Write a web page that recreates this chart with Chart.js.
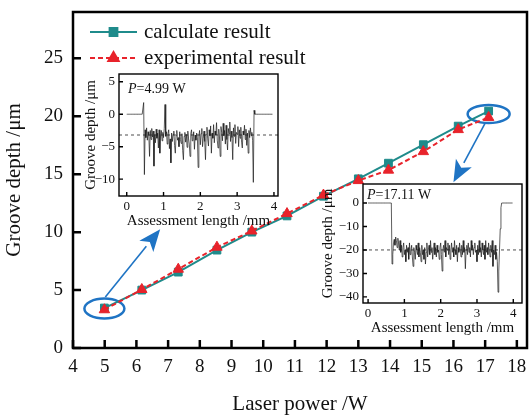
<!DOCTYPE html>
<html>
<head>
<meta charset="utf-8">
<script src="https://cdn.jsdelivr.net/npm/chart.js@4.4.1/dist/chart.umd.min.js"></script>
<style>
body{margin:0;background:#fff;}
#wrap{position:relative;width:531px;height:417px;overflow:hidden;}
#wrap canvas{position:absolute;}
</style>
</head>
<body>
<div id="wrap">
<canvas id="main" width="531" height="417" style="left:0;top:0"></canvas>
<canvas id="low" width="202" height="160" style="left:80px;top:70px"></canvas>
<canvas id="high" width="213" height="157" style="left:318px;top:180px"></canvas>
</div>
<script>
// groove depth vs laser power
const power = [4.99, 6.17, 7.32, 8.54, 9.64, 10.75, 11.9, 13.0, 13.95, 15.05, 16.15, 17.11];
const calcDepth = [3.45, 5.0, 6.55, 8.45, 10.0, 11.4, 13.1, 14.6, 15.95, 17.55, 19.15, 20.45];
const expDepth = [3.3, 5.05, 6.8, 8.7, 10.1, 11.6, 13.2, 14.45, 15.35, 16.95, 18.85, 19.9];
const powerTicks = [4, 5, 6, 7, 8, 9, 10, 11, 12, 13, 14, 15, 16, 17, 18];
const depthTicks = [0, 5, 10, 15, 20, 25];

// groove profiles, one sample every 0.02 mm
const sampleStep = 0.02;
const lowProfile = [
  0, 0, 0, 0, 0, 0, 0, 0, 0, 0, 0, 0, 0, 0, 0, 0, 0, 0, 0, 0, 0, 0, 0,
  1.8, -9.3,
  -2.4, -3.6, -2.1, -4.0, -2.7, -3.3, -6.5, -2.5, -3.9, -2.2,
  -3.5, -2.6, -8.0, -3.1, -4.4, -2.3, -3.7, -2.9, -5.2, -2.4,
  -6.0, -3.2, -2.5, -4.1, -2.8, -3.6, -2.2, 1.5, -3.4, -2.7,
  -4.6, -3.0, -2.4, -5.3, -3.8, -7.5, -2.9, -4.2, -3.1, -2.6,
  -4.8, -6.0, -3.3, -2.5, -4.0, -3.6, -5.0, -2.7, -3.9, -4.5,
  -3.0, -5.6, -7.0, -3.4, -2.8, -4.3, -3.1, -5.1, -2.6, -3.8,
  -4.6, -6.5, -3.0, -2.4, -4.1, -3.5, -2.7, -5.4, -3.2, -4.0,
  -2.9, -3.6, -8.2, -3.3, -2.5, -4.7, -3.0, -2.2, -5.0, -3.7,
  -2.6, -4.2, -7.0, -3.1, -2.0, -3.8, -4.9, -2.4, -3.3, -1.8,
  -6.0, -2.9, -3.7, -1.6, -4.4, -2.6, -3.2, -1.3, -4.0, -5.2,
  -2.3, -3.5, -6.5, -1.9, -2.8, -4.1, -1.4, -3.3, -2.5, -4.6,
  -1.7, -3.9, -5.5, -2.2, -3.0, -1.2, -4.2, -2.6, -3.6, -7.0,
  -2.1, -3.4, -1.6, -4.5, -2.8, -3.1, -1.9, -5.0, -2.4, -3.7,
  -2.0, -4.3, -5.2, -2.6, -3.2, -1.7, -3.9, -2.3, -4.8, -2.9,
  -6.0, -2.5, -3.6, -2.1, -3.3, -2.8, -4.0,
  -10.5, 0.6,
  0, 0, 0, 0, 0, 0, 0, 0, 0, 0, 0, 0, 0, 0, 0, 0, 0, 0, 0, 0, 0, 0, 0, 0, 0
];
const highProfile = [
  0, 0, 0, 0, 0, 0, 0, 0, 0, 0, 0, 0, 0, 0, 0, 0, 0, 0, 0, 0, 0, 0, 0, 0, 0, 0, 0, 0, 0, 0, 0, 0, 0,
  -26,
  -22, -17, -15.5, -18, -14.5, -16, -19, -15, -17, -20,
  -16, -21, -18, -23, -19, -17, -22, -20, -25, -18,
  -21, -19, -24, -17, -22, -20, -18, -23, -27, -19,
  -21, -24, -18, -20, -22, -17, -23, -19, -21, -25,
  -18, -22, -20, -24, -19, -26, -21, -17, -23, -20,
  -18, -22, -16, -21, -19, -24, -20, -17, -22, -19,
  -23, -18, -21, -20, -24, -19, -17, -22, -29, -20,
  -18, -21, -16, -23, -19, -20, -17, -22, -18, -24,
  -20, -17, -21, -19, -23, -16, -20, -22, -18, -25,
  -19, -21, -17, -20, -23, -18, -22, -16, -21, -19,
  -28, -20, -18, -22, -17, -21, -19, -23, -16, -20,
  -18, -22, -19, -17, -21, -20, -25, -18, -22, -16,
  -21, -19, -23, -17, -20, -22, -18, -24, -16, -21,
  -19, -22, -17, -20, -23, -18, -21, -16, -27, -20,
  -22, -18, -24, -21, -25,
  -38, -29, -20, -11, -2,
  0, 0, 0, 0, 0, 0, 0, 0, 0, 0, 0, 0, 0, 0, 0, 0
];
const lowMean = -3.2;
const highMean = -20;
const lowDepthTicks = [5, 0, -5, -10];
const highDepthTicks = [0, -10, -20, -30, -40];
const lengthTicks = [0, 1, 2, 3, 4];

const serif = "'Liberation Serif', 'Times New Roman', serif";
const teal = '#1f8b8b';
const red = '#e8232b';
const blue = '#1f74c4';

// white plot area, box frame and inward tick marks
const framePlugin = {
  id: 'frame',
  beforeDraw(chart) {
    const a = chart.chartArea, ctx = chart.ctx;
    ctx.save();
    ctx.fillStyle = '#fff';
    ctx.fillRect(a.left, a.top, a.width, a.height);
    ctx.restore();
  },
  afterDatasetsDraw(chart, args, opts) {
    const {ctx, chartArea: a, scales: {x, y}} = chart;
    ctx.save();
    ctx.strokeStyle = '#000';
    ctx.lineWidth = opts.width;
    ctx.strokeRect(a.left, a.top, a.width, a.height);
    ctx.beginPath();
    x.ticks.forEach(t => {
      const px = x.getPixelForValue(t.value);
      ctx.moveTo(px, a.bottom);
      ctx.lineTo(px, a.bottom - opts.tick);
    });
    y.ticks.forEach(t => {
      const py = y.getPixelForValue(t.value);
      ctx.moveTo(a.left, py);
      ctx.lineTo(a.left + opts.tick, py);
    });
    ctx.stroke();
    ctx.restore();
  }
};

// blue rings round the first and last points, arrows toward the profiles
const calloutPlugin = {
  id: 'callout',
  beforeDatasetsDraw(chart) {
    const {ctx, scales: {x, y}} = chart;
    ctx.save();
    ctx.strokeStyle = blue;
    ctx.lineWidth = 2.5;
    [[4.99, 3.4, 20, 10], [17.11, 20.2, 21, 9]].forEach(r => {
      ctx.beginPath();
      ctx.ellipse(x.getPixelForValue(r[0]), y.getPixelForValue(r[1]), r[2], r[3], 0, 0, Math.PI * 2);
      ctx.stroke();
    });
    ctx.restore();
  },
  afterDatasetsDraw(chart) {
    const {ctx, scales: {x, y}} = chart;
    ctx.save();
    ctx.strokeStyle = blue;
    ctx.fillStyle = blue;
    ctx.lineWidth = 1.6;
    [[5.02, 4.4, 6.75, 10.25], [17.0, 19.4, 16.0, 14.3]].forEach(ar => {
      const x0 = x.getPixelForValue(ar[0]), y0 = y.getPixelForValue(ar[1]);
      const x1 = x.getPixelForValue(ar[2]), y1 = y.getPixelForValue(ar[3]);
      const len = Math.hypot(x1 - x0, y1 - y0);
      const ux = (x1 - x0) / len, uy = (y1 - y0) / len;
      const hl = 22, hw = 9;
      const bx = x1 - ux * hl, by = y1 - uy * hl;
      ctx.beginPath();
      ctx.moveTo(x0, y0);
      ctx.lineTo(bx, by);
      ctx.stroke();
      ctx.beginPath();
      ctx.moveTo(x1, y1);
      ctx.lineTo(bx - uy * hw, by + ux * hw);
      ctx.lineTo(x1 - ux * hl * 0.75, y1 - uy * hl * 0.75);
      ctx.lineTo(bx + uy * hw, by - ux * hw);
      ctx.closePath();
      ctx.fill();
    });
    ctx.restore();
  }
};

// legend drawn inside the plot, line sample with its marker
const keyPlugin = {
  id: 'keys',
  afterDraw(chart) {
    const {ctx, chartArea: a} = chart;
    const rows = [chart.data.datasets[1], chart.data.datasets[0]];
    ctx.save();
    rows.forEach((ds, i) => {
      const yy = a.top + 20 + i * 26;
      const x0 = a.left + 17, x1 = a.left + 64;
      ctx.strokeStyle = ds.borderColor;
      ctx.lineWidth = 2;
      ctx.setLineDash(ds.borderDash || []);
      ctx.beginPath();
      ctx.moveTo(x0, yy);
      ctx.lineTo(x1, yy);
      ctx.stroke();
      ctx.setLineDash([]);
      ctx.fillStyle = ds.pointBackgroundColor;
      ctx.strokeStyle = ds.pointBackgroundColor;
      Chart.helpers.drawPoint(ctx, {pointStyle: ds.pointStyle, radius: ds.pointRadius, rotation: 0, borderWidth: 1}, (x0 + x1) / 2, yy);
      ctx.fillStyle = '#111';
      ctx.font = '21px ' + serif;
      ctx.textBaseline = 'middle';
      ctx.fillText(ds.label, a.left + 71, yy);
    });
    ctx.restore();
  }
};

// "P=... W" tag in the profile plots
const tagPlugin = {
  id: 'tag',
  afterDraw(chart, args, opts) {
    const {ctx, chartArea: a} = chart;
    ctx.save();
    ctx.fillStyle = '#111';
    ctx.textBaseline = 'middle';
    const tx = a.left + opts.dx, ty = a.top + opts.dy;
    ctx.font = 'italic 14px ' + serif;
    ctx.fillText('P', tx, ty);
    const w = ctx.measureText('P').width;
    ctx.font = '14px ' + serif;
    ctx.fillText('=' + opts.text, tx + w, ty);
    ctx.restore();
  }
};

const fixedTicks = list => scale => { scale.ticks = list.map(v => ({value: v})); };
const minus = v => v < 0 ? '\u2212' + Math.abs(v) : String(v);
// fixed axis box size, no extra room for overhanging labels
const boxHeight = h => s => { s.height = h; s.paddingLeft = 0; s.paddingRight = 0; };
const boxWidth = w => s => { s.width = w; s.paddingTop = 0; s.paddingBottom = 0; };

new Chart(document.getElementById('main'), {
  type: 'line',
  data: {
    datasets: [
      {
        label: 'experimental result',
        data: power.map((p, i) => ({x: p, y: expDepth[i]})),
        borderColor: red,
        borderWidth: 2,
        borderDash: [5, 3],
        pointStyle: 'triangle',
        pointRadius: 6,
        pointBackgroundColor: red,
        pointBorderColor: red,
        pointBorderWidth: 1,
        order: 0
      },
      {
        label: 'calculate result',
        data: power.map((p, i) => ({x: p, y: calcDepth[i]})),
        borderColor: teal,
        borderWidth: 2,
        pointStyle: 'rect',
        pointRadius: 5.5,
        pointBackgroundColor: teal,
        pointBorderColor: teal,
        pointBorderWidth: 1,
        order: 1
      }
    ]
  },
  options: {
    responsive: false,
    animation: false,
    devicePixelRatio: 1,
    layout: {autoPadding: false, padding: {top: 12, right: 4, left: 0, bottom: 0}},
    plugins: {
      legend: {display: false},
      tooltip: {enabled: false},
      frame: {width: 2.5, tick: 8}
    },
    scales: {
      x: {
        type: 'linear', min: 4, max: 18.32,
        afterBuildTicks: fixedTicks(powerTicks),
        afterFit: boxHeight(69),
        grid: {display: false, drawTicks: false},
        border: {display: false},
        ticks: {color: '#111', padding: 8, font: {family: serif, size: 19}},
        title: {display: true, text: 'Laser power /W', color: '#111', padding: {top: 0, bottom: 0}, font: {family: serif, size: 21}}
      },
      y: {
        type: 'linear', min: 0, max: 29,
        afterBuildTicks: fixedTicks(depthTicks),
        afterFit: boxWidth(73),
        grid: {display: false, drawTicks: false},
        border: {display: false},
        ticks: {color: '#111', padding: 10, font: {family: serif, size: 19}},
        title: {display: true, text: 'Groove depth /\u03bcm', color: '#111', padding: {top: 2, bottom: 0}, font: {family: serif, size: 21}}
      }
    }
  },
  plugins: [calloutPlugin, framePlugin, keyPlugin]
});

function profileChart(id, profile, mean, yTicks, xr, yr, box, tag) {
  return new Chart(document.getElementById(id), {
    type: 'line',
    data: {
      datasets: [
        {
          data: profile.map((v, i) => ({x: i * sampleStep, y: v})),
          borderColor: '#1a1a1a',
          borderWidth: 0.7,
          pointRadius: 0
        },
        {
          data: [{x: xr[0], y: mean}, {x: xr[1], y: mean}],
          borderColor: '#222',
          borderWidth: 0.8,
          borderDash: [3, 3],
          pointRadius: 0
        }
      ]
    },
    options: {
      responsive: false,
      animation: false,
      devicePixelRatio: 1,
      layout: {autoPadding: false, padding: {top: 4, right: box.right, left: 0, bottom: 0}},
      plugins: {
        legend: {display: false},
        tooltip: {enabled: false},
        frame: {width: 1.4, tick: 4},
        tag: tag
      },
      scales: {
        x: {
          type: 'linear', min: xr[0], max: xr[1],
          afterBuildTicks: fixedTicks(lengthTicks),
          afterFit: boxHeight(34),
          grid: {display: false, drawTicks: false},
          border: {display: false},
          ticks: {color: '#111', padding: 3, font: {family: serif, size: 13}},
          title: {display: true, text: 'Assessment length /mm', color: '#111', padding: {top: 0, bottom: 0}, font: {family: serif, size: 15}}
        },
        y: {
          type: 'linear', min: yr[0], max: yr[1],
          afterBuildTicks: fixedTicks(yTicks),
          afterFit: boxWidth(box.axis),
          grid: {display: false, drawTicks: false},
          border: {display: false},
          ticks: {color: '#111', padding: 4, font: {family: serif, size: 13}, callback: minus},
          title: {display: true, text: 'Groove depth /\u03bcm', color: '#111', padding: {top: box.titlePad, bottom: 0}, font: {family: serif, size: 15}}
        }
      }
    },
    plugins: [framePlugin, tagPlugin]
  });
}

profileChart('low', lowProfile, lowMean, lowDepthTicks, [-0.21, 4.11], [-12.6, 6.2],
  {right: 4, axis: 39, titlePad: 2}, {text: '4.99 W', dx: 9, dy: 15});
profileChart('high', highProfile, highMean, highDepthTicks, [-0.14, 4.24], [-42.6, 8.1],
  {right: 9, axis: 45, titlePad: 1}, {text: '17.11 W', dx: 4, dy: 11});
</script>
</body>
</html>
